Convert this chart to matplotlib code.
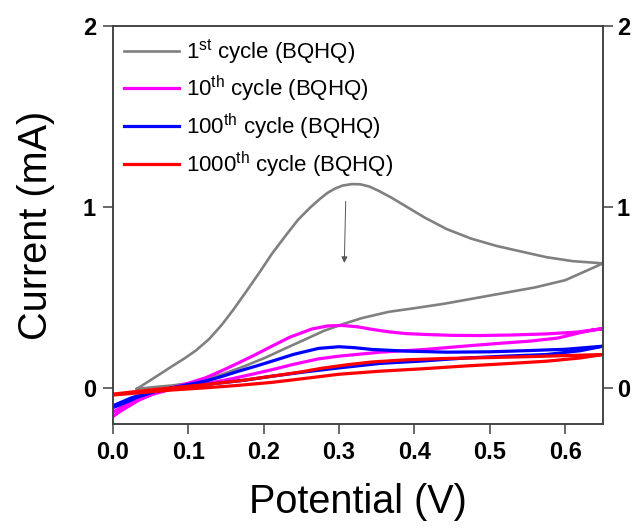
import matplotlib
matplotlib.use('Agg')
import matplotlib.pyplot as plt

plt.rcParams['font.family'] = ['Liberation Sans', 'DejaVu Sans']
plt.rcParams['mathtext.fontset'] = 'custom'
plt.rcParams['mathtext.rm'] = 'Liberation Sans'

# 1st cycle: forward scan then reverse scan (V, mA)
x_c1 = [0.032, 0.05, 0.065, 0.079, 0.095, 0.11, 0.128, 0.145, 0.16, 0.176, 0.195, 0.211, 0.23, 0.246,
        0.262, 0.275, 0.285, 0.295, 0.305, 0.317, 0.328, 0.34, 0.352, 0.37, 0.388, 0.414, 0.443,
        0.475, 0.509, 0.545, 0.575, 0.61, 0.65,
        0.62, 0.60, 0.56, 0.52, 0.48, 0.44, 0.40, 0.366, 0.33, 0.308, 0.28, 0.255, 0.23, 0.202,
        0.175, 0.145, 0.12, 0.10, 0.079, 0.055, 0.032]
y_c1 = [-0.006, 0.042, 0.082, 0.12, 0.162, 0.205, 0.27, 0.35, 0.432, 0.526, 0.64, 0.74, 0.845, 0.93,
        0.997, 1.045, 1.078, 1.102, 1.118, 1.126, 1.125, 1.113, 1.09, 1.05, 1.005, 0.94, 0.877,
        0.825, 0.784, 0.75, 0.722, 0.70, 0.688,
        0.632, 0.595, 0.555, 0.525, 0.495, 0.465, 0.44, 0.42, 0.385, 0.356, 0.315, 0.267, 0.22, 0.166,
        0.12, 0.074, 0.045, 0.025, 0.013, 0.004, -0.006]

# 10th cycle
x_c10 = [0.0, 0.01, 0.02, 0.034, 0.055, 0.079, 0.10, 0.123, 0.145, 0.167, 0.19, 0.211, 0.235, 0.264,
         0.285, 0.304, 0.325, 0.344, 0.365, 0.388, 0.414, 0.45, 0.487, 0.53, 0.575, 0.615, 0.65,
         0.635, 0.62, 0.59, 0.553, 0.51, 0.465, 0.414, 0.355, 0.30, 0.273, 0.24, 0.211, 0.185,
         0.158, 0.13, 0.10, 0.075, 0.05, 0.03, 0.015, 0.0]
y_c10 = [-0.16, -0.13, -0.105, -0.07, -0.03, 0.0, 0.025, 0.055, 0.095, 0.138, 0.185, 0.23, 0.28, 0.325,
         0.342, 0.345, 0.337, 0.323, 0.31, 0.30, 0.295, 0.29, 0.289, 0.292, 0.298, 0.308, 0.327,
         0.318, 0.305, 0.275, 0.258, 0.245, 0.23, 0.212, 0.197, 0.175, 0.16, 0.13, 0.10, 0.075,
         0.05, 0.028, 0.009, -0.01, -0.04, -0.07, -0.10, -0.135]

# 100th cycle
x_c100 = [0.0, 0.015, 0.034, 0.055, 0.079, 0.10, 0.123, 0.145, 0.167, 0.19, 0.211, 0.24, 0.273, 0.30,
          0.32, 0.344, 0.388, 0.443, 0.50, 0.553, 0.60, 0.65,
          0.62, 0.575, 0.52, 0.465, 0.41, 0.355, 0.30, 0.255, 0.211, 0.175, 0.145, 0.11, 0.079,
          0.05, 0.025, 0.0]
y_c100 = [-0.11, -0.085, -0.05, -0.022, 0.0, 0.018, 0.037, 0.063, 0.092, 0.12, 0.147, 0.185, 0.218, 0.227,
          0.222, 0.212, 0.203, 0.197, 0.199, 0.206, 0.213, 0.23,
          0.205, 0.184, 0.175, 0.164, 0.148, 0.135, 0.11, 0.088, 0.064, 0.042, 0.028, 0.012, 0.0,
          -0.025, -0.055, -0.10]

# 1000th cycle
x_c1000 = [0.0, 0.034, 0.079, 0.123, 0.17, 0.211, 0.25, 0.277, 0.31, 0.344, 0.39, 0.44, 0.487, 0.55,
           0.60, 0.65,
           0.62, 0.575, 0.52, 0.465, 0.41, 0.355, 0.30, 0.255, 0.211, 0.165, 0.123, 0.079, 0.034, 0.0]
y_c1000 = [-0.035, -0.019, 0.0, 0.018, 0.04, 0.064, 0.088, 0.108, 0.127, 0.143, 0.155, 0.162, 0.166, 0.172,
           0.178, 0.184,
           0.165, 0.147, 0.133, 0.12, 0.105, 0.092, 0.075, 0.052, 0.03, 0.013, 0.0, -0.012, -0.028, -0.04]

labels = [r'1$^{\mathrm{st}}$ cycle (BQHQ)', r'10$^{\mathrm{th}}$ cycle (BQHQ)',
          r'100$^{\mathrm{th}}$ cycle (BQHQ)', r'1000$^{\mathrm{th}}$ cycle (BQHQ)']
colors = ['#808080', '#ff00ff', '#0000ff', '#ff0000']

fig = plt.figure(figsize=(6.33, 5.3), dpi=100)
ax = fig.add_axes([0.178, 0.2, 0.7746, 0.751])

ax.plot(x_c1, y_c1, color=colors[0], lw=1.9, label=labels[0], solid_joinstyle='round')
ax.plot(x_c10, y_c10, color=colors[1], lw=2.3, label=labels[1], solid_joinstyle='round')
ax.plot(x_c100, y_c100, color=colors[2], lw=2.3, label=labels[2], solid_joinstyle='round')
ax.plot(x_c1000, y_c1000, color=colors[3], lw=2.3, label=labels[3], solid_joinstyle='round')

# arrow showing the decrease with cycling
ax.annotate('', xy=(0.307, 0.675), xytext=(0.309, 1.046),
            arrowprops=dict(arrowstyle='-|>', color='#555555', lw=0.7, mutation_scale=9))

ax.set_xlim(0, 0.65)
ax.set_ylim(-0.2, 2)
ax.set_xticks([0.0, 0.1, 0.2, 0.3, 0.4, 0.5, 0.6])
ax.set_xticklabels(['0.0', '0.1', '0.2', '0.3', '0.4', '0.5', '0.6'])
ax.set_yticks([0, 1, 2])
ax.tick_params(axis='both', direction='out', length=7, width=1.1, labelsize=17,
               color='#404040', pad=5)
for lab in ax.get_xticklabels() + ax.get_yticklabels():
    lab.set_fontweight('bold')

ax2 = ax.twinx()
ax2.set_ylim(-0.2, 2)
ax2.set_yticks([0, 1, 2])
ax2.tick_params(axis='y', direction='out', length=7, width=1.1, labelsize=17,
                color='#404040', pad=3)
for lab in ax2.get_yticklabels():
    lab.set_fontweight('bold')

for a in (ax, ax2):
    for s in a.spines.values():
        s.set_linewidth(1.1)
        s.set_color('#404040')

ax.set_xlabel('Potential (V)', fontsize=28.5, labelpad=14)
ax.set_ylabel('Current (mA)', fontsize=28.5, labelpad=20)

ax.legend(loc='upper left', bbox_to_anchor=(0.0, 1.0), frameon=False, fontsize=16,
          handlelength=2.5, handletextpad=0.3, labelspacing=0.35, borderaxespad=0.1)

fig.savefig('out.png', dpi=100)
